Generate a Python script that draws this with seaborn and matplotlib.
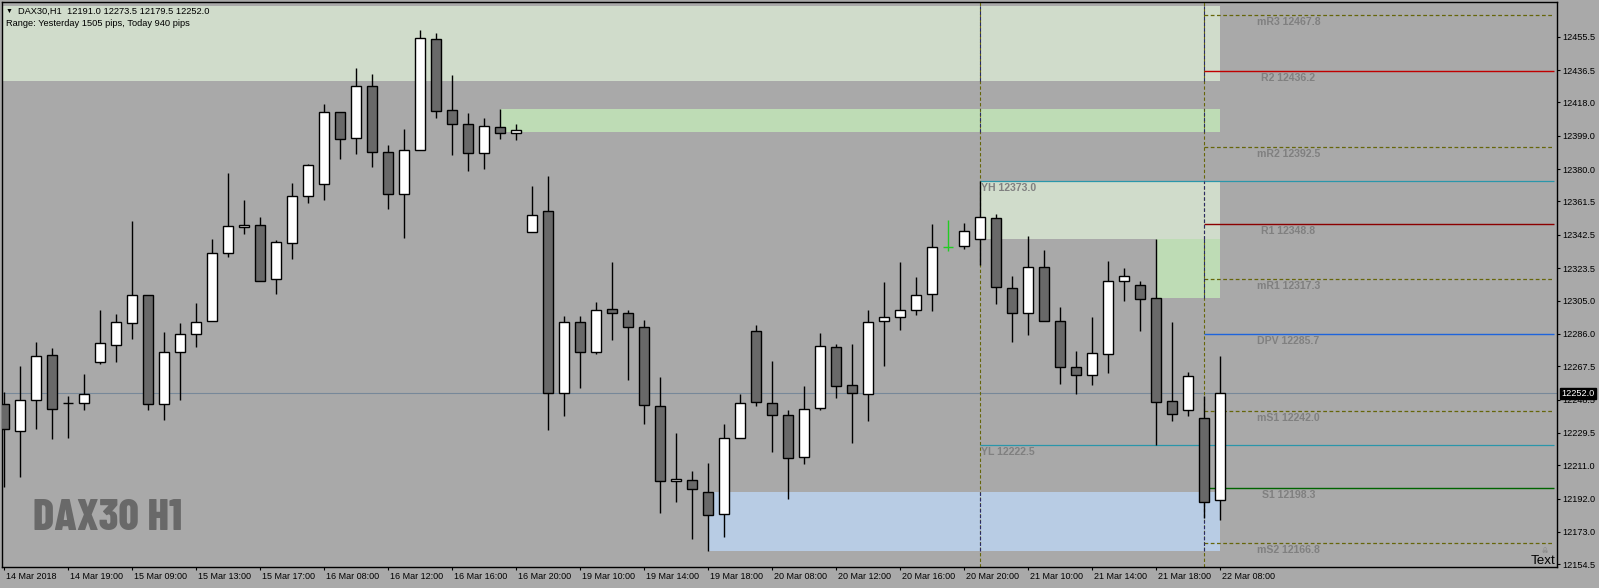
import numpy as np
import pandas as pd
import seaborn as sns
import matplotlib.pyplot as plt
import matplotlib.transforms as mtransforms
from matplotlib.patches import Rectangle

# DAX30 H1 candles (bar 0 = 14 Mar 2018)
opens = [12245.8, 12230.4, 12248.0, 12273.7, 12246.3, 12246.3, 12270.1, 12279.4, 12292.0, 12307.9,
         12245.8, 12275.4, 12285.7, 12293.1, 12331.9, 12346.7, 12347.9, 12317.1, 12337.6, 12364.4,
         12371.3, 12412.4, 12397.5, 12427.2, 12389.5, 12365.6, 12390.7, 12454.0, 12413.5, 12405.5,
         12388.9, 12403.8, 12400.8, 12343.9, 12355.9, 12252.0, 12292.5, 12275.8, 12300.0, 12297.7,
         12289.7, 12244.6, 12201.8, 12202.4, 12195.6, 12183.0, 12226.4, 12287.4, 12246.3, 12239.5,
         12215.5, 12243.5, 12278.3, 12256.6, 12251.5, 12293.1, 12295.4, 12299.4, 12308.5, 12335.3,
         12335.9, 12339.9, 12351.9, 12311.9, 12297.7, 12323.9, 12293.1, 12266.9, 12262.3, 12274.3,
         12315.9, 12313.7, 12306.2, 12247.5, 12242.3, 12237.8, 12191.0]
highs = [12253.0, 12267.6, 12281.3, 12277.9, 12250.5, 12263.1, 12299.6, 12297.3, 12350.4, 12307.9,
         12287.0, 12292.0, 12303.4, 12339.9, 12377.5, 12362.2, 12352.6, 12339.5, 12372.0, 12382.9,
         12417.1, 12412.4, 12437.6, 12434.2, 12393.7, 12402.8, 12459.3, 12457.6, 12433.6, 12412.0,
         12409.1, 12414.3, 12405.5, 12370.3, 12376.0, 12296.2, 12296.2, 12304.2, 12327.0, 12299.6,
         12293.9, 12261.4, 12229.4, 12207.7, 12212.3, 12234.4, 12251.6, 12291.0, 12270.5, 12242.5,
         12256.2, 12286.4, 12280.2, 12280.2, 12299.6, 12315.6, 12327.0, 12318.4, 12348.6, 12350.9,
         12349.2, 12373.0, 12354.3, 12319.0, 12341.8, 12333.8, 12301.3, 12276.2, 12295.6, 12327.5,
         12323.5, 12316.1, 12340.1, 12292.7, 12264.0, 12250.3, 12273.5]
lows = [12198.4, 12204.5, 12231.9, 12226.2, 12226.7, 12242.7, 12269.0, 12270.1, 12283.2, 12242.3,
        12236.6, 12248.4, 12278.3, 12293.1, 12329.6, 12342.8, 12315.9, 12308.9, 12328.9, 12360.8,
        12362.5, 12385.9, 12388.7, 12381.4, 12357.4, 12340.8, 12390.7, 12409.3, 12388.2, 12379.1,
        12380.2, 12396.9, 12396.5, 12343.9, 12231.3, 12239.3, 12255.3, 12274.7, 12282.7, 12259.8,
        12234.7, 12183.9, 12190.2, 12169.1, 12162.0, 12170.3, 12226.4, 12245.0, 12218.7, 12191.9,
        12211.9, 12242.7, 12249.6, 12223.9, 12236.4, 12267.8, 12288.4, 12296.9, 12299.2, 12333.0,
        12334.2, 12325.1, 12303.2, 12281.5, 12285.5, 12293.1, 12257.6, 12251.8, 12257.0, 12263.8,
        12304.9, 12287.8, 12222.5, 12236.1, 12238.9, 12180.7, 12179.5]
closes = [12231.5, 12248.0, 12273.1, 12243.3, 12246.3, 12251.5, 12280.6, 12292.5, 12307.9, 12245.8,
          12275.4, 12285.7, 12292.5, 12331.9, 12347.3, 12347.9, 12315.9, 12338.2, 12364.4, 12382.1,
          12412.4, 12396.9, 12427.2, 12389.5, 12365.6, 12390.7, 12454.6, 12412.9, 12405.5, 12388.9,
          12404.4, 12400.4, 12402.0, 12353.6, 12252.0, 12292.5, 12275.4, 12299.4, 12297.7, 12289.7,
          12245.2, 12201.8, 12203.0, 12197.3, 12182.4, 12226.4, 12246.3, 12246.9, 12239.5, 12214.9,
          12242.9, 12278.9, 12256.0, 12252.0, 12292.5, 12295.4, 12299.4, 12307.9, 12335.3, 12335.3,
          12344.5, 12352.4, 12312.5, 12297.7, 12323.9, 12293.1, 12266.9, 12262.3, 12274.9, 12315.9,
          12318.8, 12305.7, 12246.9, 12240.1, 12261.7, 12189.9, 12252.0]
green_bar = 59

x_labels = ["14 Mar 2018", "14 Mar 19:00", "15 Mar 09:00", "15 Mar 13:00", "15 Mar 17:00",
            "16 Mar 08:00", "16 Mar 12:00", "16 Mar 16:00", "16 Mar 20:00", "19 Mar 10:00",
            "19 Mar 14:00", "19 Mar 18:00", "20 Mar 08:00", "20 Mar 12:00", "20 Mar 16:00",
            "20 Mar 20:00", "21 Mar 10:00", "21 Mar 14:00", "21 Mar 18:00", "22 Mar 08:00"]
y_ticks = [12455.5, 12436.5, 12418.0, 12399.0, 12380.0, 12361.5, 12342.5, 12323.5, 12305.0,
           12286.0, 12267.5, 12248.5, 12229.5, 12211.0, 12192.0, 12173.0, 12154.5]

# daily pivots
pivot_names = ["mR3", "R2", "mR2", "R1", "mR1", "DPV", "mS1", "S1", "mS2"]
pivot_values = [12467.8, 12436.2, 12392.5, 12348.8, 12317.3, 12285.7, 12242.0, 12198.3, 12166.8]
pivot_colors = ["#66660a", "#c00000", "#66660a", "#8b0000", "#66660a", "#1e64dc", "#66660a", "#006400", "#66660a"]
pivot_dashed = [True, False, True, False, True, False, True, False, True]
yest_high, yest_low = 12373.0, 12222.5
last_price = 12252.0

# supply / demand zones: start bar, end bar, low, high
zone_start = [-1, 31, 61, 72, 44]
zone_end = [76, 76, 76, 76, 76]
zone_low = [12430.4, 12401.3, 12340.1, 12306.2, 12162.0]
zone_high = [12473.0, 12414.3, 12373.0, 12340.1, 12195.6]
zone_colors = ["#d0dccb", "#bedcb5", "#d0dccb", "#bedcb5", "#b8cce4"]

day_line_bar = 61
today_line_bar = 75

df = pd.DataFrame({"open": opens, "high": highs, "low": lows, "close": closes})
df["bar"] = np.arange(len(df))

W, H = 1599, 588
BG = "#a9a9a9"
sns.set_theme(style="white")
plt.rcParams["font.family"] = ["Liberation Sans", "DejaVu Sans"]

fig = plt.figure(figsize=(W / 100, H / 100), dpi=100)
fig.patch.set_facecolor(BG)
ax = fig.add_axes([2 / W, 21 / H, 1554.7 / W, 565 / H])
ax.set_facecolor(BG)
x_max = (1556.7 - 3.6) / 16
ax.set_xlim(-0.1, x_max)
ax.set_ylim(12152.96, 12475.3)

for s in ax.spines.values():
    s.set_color("black")
    s.set_linewidth(1)

# zones
for x0, x1, lo, hi, c in zip(zone_start, zone_end, zone_low, zone_high, zone_colors):
    ax.add_patch(Rectangle((x0, lo), x1 - x0, hi - lo, facecolor=c, lw=0, zorder=1))

# last price line
ax.axhline(last_price, color="#778899", lw=0.8, zorder=2)

# vertical day separators (colour flips over the zones like MT4 does)
for vb in [day_line_bar, today_line_bar]:
    ax.axvline(vb, color="#66660a", lw=0.8, ls=(0, (3, 2)), zorder=2)
    for x0, x1, lo, hi in zip(zone_start, zone_end, zone_low, zone_high):
        if x0 < vb <= x1:
            ax.vlines(vb, lo, hi, color="#2a2a66", lw=0.8, ls=(0, (3, 2)), zorder=2.1)

# yesterday high / low
for v, name in [(yest_high, "YH"), (yest_low, "YL")]:
    ax.hlines(v, day_line_bar, x_max - 0.15, color="#2a96aa", lw=0.9, zorder=2)
    ax.annotate(f"{name} {v:.1f}", (day_line_bar, v), xytext=(1, -1.5), textcoords="offset points",
                ha="left", va="top", fontsize=7.6, fontweight="bold", color="#808080", zorder=6)

# pivots
for name, v, c, d in zip(pivot_names, pivot_values, pivot_colors, pivot_dashed):
    ax.hlines(v, today_line_bar, x_max - 0.15, color=c, lw=0.9 if d else 1.0,
              ls=(0, (3, 2)) if d else "-", zorder=2)
    ax.annotate(f"{name} {v:.1f}", (80.3, v), xytext=(0, -1.5), textcoords="offset points",
                ha="center", va="top", fontsize=7.6, fontweight="bold", color="#808080", zorder=6)

# candles
body_w = 0.62
wick_col = ["#22cc22" if b == green_bar else "black" for b in df["bar"]]
ax.vlines(df["bar"], df["low"], df["high"], colors=wick_col, lw=1.0, zorder=3)
for r in df.itertuples():
    col = "#22cc22" if r.bar == green_bar else "black"
    if abs(r.close - r.open) < 0.05:
        ax.hlines(r.close, r.bar - body_w / 2, r.bar + body_w / 2, color=col, lw=1.0, zorder=4)
        continue
    fill = "white" if r.close > r.open else "#696969"
    ax.bar(r.bar, abs(r.close - r.open), bottom=min(r.open, r.close), width=body_w,
           color=fill, edgecolor="black", linewidth=1.0, zorder=4)

# axes ticks
ax.yaxis.tick_right()
ax.set_yticks(y_ticks)
ax.set_yticklabels([f"{v:.1f}" for v in y_ticks])
ax.tick_params(axis="y", direction="out", length=2.2, width=0.8, pad=1.8, labelsize=6.6,
               colors="black", right=True, left=False)
ax.set_xticks(np.arange(0, 4 * len(x_labels), 4))
ax.set_xticklabels(x_labels)
ax.tick_params(axis="x", direction="out", length=2.2, width=0.8, pad=1.4, labelsize=6.5,
               colors="black", bottom=True)
shift = mtransforms.ScaledTranslation(2 / 100, 0, fig.dpi_scale_trans)
for lbl in ax.get_xticklabels():
    lbl.set_ha("left")
    lbl.set_transform(lbl.get_transform() + shift)
ax.grid(False)

# last price box on the axis
ax.annotate(f"{last_price:.1f}", (1, last_price), xycoords=("axes fraction", "data"),
            xytext=(3.5, 0), textcoords="offset points", ha="left", va="center",
            fontsize=6.6, color="white", annotation_clip=False, zorder=10,
            bbox=dict(boxstyle="square,pad=0.15", fc="black", ec="black"))

# header and watermark
def px(x, y):
    return x / W, 1 - y / H

fig.text(*px(6, 11.5), "\u25bc", fontsize=5, va="center", ha="left", color="black")
fig.text(*px(18, 11), "DAX30,H1  12191.0 12273.5 12179.5 12252.0", fontsize=6.7,
         va="center", ha="left", color="black")
fig.text(*px(6, 24), "Range: Yesterday 1505 pips, Today 940 pips", fontsize=6.7,
         va="center", ha="left", color="black")
fig.text(*px(33, 529.5), "DAX30 H1", fontsize=32, fontweight=800, color="#696969",
         family=["Barlow Condensed", "Liberation Sans"], va="baseline", ha="left")
fig.text(*px(1555, 564), "Text", fontsize=9.6, color="black", va="baseline", ha="right")
fig.text(*px(1545, 551), "\u2620", fontsize=5, color="#7a7a7a", va="center", ha="center",
         family=["DejaVu Sans"])

fig.savefig("out.png", dpi=100, facecolor=BG)
